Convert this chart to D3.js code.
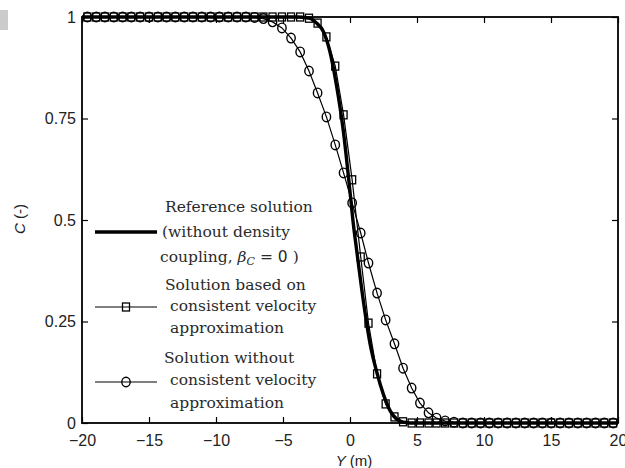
<!DOCTYPE html>
<html>
<head>
<meta charset="utf-8">
<script src="https://cdn.jsdelivr.net/npm/d3@7"></script>
<style>
    body { margin: 0; background: #fff; }
    svg { display: block; }
</style>
</head>
<body>
<div id="chart"></div>
<script>
const xTicks = [-20, -15, -10, -5, 0, 5, 10, 15, 20]
const yTicks = [0, 0.25, 0.5, 0.75, 1]
const yTickLabels = ['0', '0.25', '0.5', '0.75', '1']

// reference solution (thick line)
const refY = [-20, -4, -3, -2.5, -2, -1.5, -1, -0.5, 0, 0.25, 0.5, 1, 1.5, 2, 2.5, 3, 3.5, 4, 4.5, 20]
const refC = [1, 1, 0.997, 0.985, 0.965, 0.915, 0.83, 0.72, 0.57, 0.49, 0.425, 0.30, 0.195, 0.125, 0.07, 0.03, 0.009, 0.002, 0, 0]

// marker positions shared by both approximations
const markerY = [-19.60, -18.94, -18.29, -17.63, -16.97, -16.32, -15.66, -15.00, -14.34, -13.69,
    -13.03, -12.37, -11.72, -11.06, -10.40, -9.75, -9.09, -8.43, -7.77, -7.12,
    -6.46, -5.78, -5.08, -4.40, -3.72, -3.06, -2.42, -1.76, -1.10, -0.48,
    0.16, 0.80, 1.38, 2.02, 2.66, 3.32, 3.96, 4.60, 5.22, 5.86,
    6.46, 7.10, 7.76, 8.42, 9.08, 9.74, 10.40, 11.06, 11.72, 12.38,
    13.04, 13.70, 14.36, 15.02, 15.68, 16.34, 17.00, 17.66, 18.32, 18.98, 19.64]
const squareC = [1, 1, 1, 1, 1, 1, 1, 1, 1, 1,
    1, 1, 1, 1, 1, 1, 1, 1, 1, 1,
    1, 1, 1, 1, 1, 0.997, 0.985, 0.951, 0.879, 0.759,
    0.599, 0.409, 0.246, 0.121, 0.047, 0.015, 0.003, 0, 0, 0,
    0, 0, 0, 0, 0, 0, 0, 0, 0, 0,
    0, 0, 0, 0, 0, 0, 0, 0, 0, 0, 0]
const circleC = [1, 1, 1, 1, 1, 1, 1, 1, 1, 1,
    1, 1, 1, 1, 1, 1, 1, 1, 1, 0.999,
    0.996, 0.988, 0.973, 0.948, 0.914, 0.867, 0.813, 0.754, 0.685, 0.616,
    0.542, 0.468, 0.394, 0.320, 0.254, 0.195, 0.135, 0.086, 0.049, 0.025,
    0.012, 0.005, 0.002, 0, 0, 0, 0, 0, 0, 0,
    0, 0, 0, 0, 0, 0, 0, 0, 0, 0, 0]

const legendRef = ['Reference solution', '(without density', 'coupling, ']
const legendSquare = ['Solution based on', 'consistent velocity', 'approximation']
const legendCircle = ['Solution without', 'consistent velocity', 'approximation']

const width = 625
const height = 468
const dim = { left: 82, right: 618, top: 17, bottom: 423 }

const svg = d3.select('#chart').append('svg')
    .attr('width', width).attr('height', height)
svg.append('rect').attr('width', width).attr('height', height).attr('fill', '#fff')
svg.append('rect').attr('x', 0).attr('y', 10).attr('width', 8).attr('height', 20).attr('fill', '#cbcbcb')

const x = d3.scaleLinear().domain([-20, 20]).range([dim.left, dim.right])
const y = d3.scaleLinear().domain([0, 1]).range([dim.bottom, dim.top])

const tickFont = g => g.selectAll('text')
    .attr('font-family', '"Liberation Sans", Arial, sans-serif')
    .attr('font-size', 16).attr('fill', '#222')

svg.append('g').attr('transform', `translate(0,${dim.bottom})`)
    .call(d3.axisBottom(x).tickValues(xTicks).tickSizeInner(-6).tickSizeOuter(0).tickPadding(12)
        .tickFormat(d => d < 0 ? '\u2212' + Math.abs(d) : d))
    .call(tickFont)
    .call(g => g.select('.domain').remove())
svg.append('g').attr('transform', `translate(0,${dim.top})`)
    .call(d3.axisTop(x).tickValues(xTicks).tickSizeInner(-6).tickSizeOuter(0).tickFormat(''))
    .call(g => g.select('.domain').remove())
svg.append('g').attr('transform', `translate(${dim.left},0)`)
    .call(d3.axisLeft(y).tickValues(yTicks).tickSizeInner(-6).tickSizeOuter(0).tickPadding(6)
        .tickFormat((d, i) => yTickLabels[i]))
    .call(tickFont)
    .call(g => g.select('.domain').remove())
svg.append('g').attr('transform', `translate(${dim.right},0)`)
    .call(d3.axisRight(y).tickValues(yTicks).tickSizeInner(-6).tickSizeOuter(0).tickFormat(''))
    .call(g => g.select('.domain').remove())
svg.selectAll('.tick line').attr('stroke', '#000').attr('stroke-width', 1.2)

const refData = refY.map((d, i) => [d, refC[i]])
const squareData = markerY.map((d, i) => [d, squareC[i]])
const circleData = markerY.map((d, i) => [d, circleC[i]])

const line = d3.line().x(d => x(d[0])).y(d => y(d[1]))

svg.append('path').datum(refData)
    .attr('d', line.curve(d3.curveMonotoneX))
    .attr('fill', 'none').attr('stroke', '#000').attr('stroke-width', 3.4)

line.curve(d3.curveLinear)
svg.append('path').datum(squareData)
    .attr('d', line).attr('fill', 'none').attr('stroke', '#000').attr('stroke-width', 1.2)
svg.selectAll('.sq').data(squareData).join('rect').attr('class', 'sq')
    .attr('x', d => x(d[0]) - 3.5).attr('y', d => y(d[1]) - 4)
    .attr('width', 7).attr('height', 8)
    .attr('fill', 'none').attr('stroke', '#000').attr('stroke-width', 1.3)

svg.append('path').datum(circleData)
    .attr('d', line).attr('fill', 'none').attr('stroke', '#000').attr('stroke-width', 1.2)
svg.selectAll('.ci').data(circleData).join('ellipse').attr('class', 'ci')
    .attr('cx', d => x(d[0])).attr('cy', d => y(d[1]))
    .attr('rx', 4.2).attr('ry', 4.8)
    .attr('fill', 'none').attr('stroke', '#000').attr('stroke-width', 1.4)

svg.append('rect').attr('x', dim.left).attr('y', dim.top)
    .attr('width', dim.right - dim.left).attr('height', dim.bottom - dim.top)
    .attr('fill', 'none').attr('stroke', '#000').attr('stroke-width', 1.8)

// legend
const legend = svg.append('g')
    .attr('font-family', '"DejaVu Serif", serif').attr('font-size', 15.5).attr('fill', '#2a2a2a')
const legendX0 = 95
const legendX1 = 157
const legendMid = 126

legend.append('line').attr('x1', legendX0).attr('x2', legendX1).attr('y1', 232).attr('y2', 232)
    .attr('stroke', '#000').attr('stroke-width', 3.4)
legend.append('line').attr('x1', legendX0).attr('x2', legendX1).attr('y1', 307).attr('y2', 307)
    .attr('stroke', '#000').attr('stroke-width', 1.2)
legend.append('rect').attr('x', legendMid - 3.5).attr('y', 303).attr('width', 7).attr('height', 8)
    .attr('fill', 'none').attr('stroke', '#000').attr('stroke-width', 1.3)
legend.append('line').attr('x1', legendX0).attr('x2', legendX1).attr('y1', 382).attr('y2', 382)
    .attr('stroke', '#000').attr('stroke-width', 1.2)
legend.append('ellipse').attr('cx', legendMid).attr('cy', 382).attr('rx', 4.2).attr('ry', 4.8)
    .attr('fill', 'none').attr('stroke', '#000').attr('stroke-width', 1.4)

const refStarts = [165, 162, 160]
const refBase = [212, 237, 262]
legendRef.forEach((t, i) => {
    const txt = legend.append('text').attr('x', refStarts[i]).attr('y', refBase[i]).text(t)
    if (i == 2) {
        txt.append('tspan').attr('font-style', 'italic').text('\u03b2')
        txt.append('tspan').attr('font-style', 'italic').attr('font-size', 11).attr('dy', 3).text('C')
        txt.append('tspan').attr('dy', -3).text(' = ')
        txt.append('tspan').attr('font-family', '"DejaVu Sans", sans-serif').text('0')
        txt.append('tspan').text('  )')
    }
})
const sqStarts = [165, 170, 170]
const sqBase = [290, 311, 333]
legendSquare.forEach((t, i) => legend.append('text').attr('x', sqStarts[i]).attr('y', sqBase[i]).text(t))
const ciStarts = [164, 170, 170]
const ciBase = [363, 385, 408]
legendCircle.forEach((t, i) => legend.append('text').attr('x', ciStarts[i]).attr('y', ciBase[i]).text(t))

// axis titles
const title = svg.append('g')
    .attr('font-family', '"Liberation Sans", Arial, sans-serif').attr('font-size', 15).attr('fill', '#222')
const xt = title.append('text').attr('x', 354).attr('y', 466).attr('text-anchor', 'middle')
xt.append('tspan').attr('font-style', 'italic').text('Y')
xt.append('tspan').text(' (m)')
const yt = title.append('text').attr('transform', 'translate(25,219) rotate(-90)').attr('text-anchor', 'middle')
yt.append('tspan').attr('font-style', 'italic').text('C')
yt.append('tspan').text(' (-)')
</script>
</body>
</html>
